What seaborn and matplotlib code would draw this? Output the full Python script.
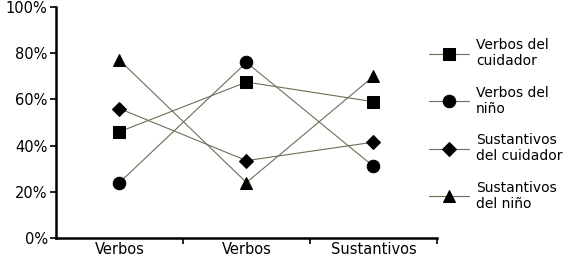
import matplotlib
matplotlib.use('Agg')
import matplotlib.pyplot as plt
import seaborn as sns
import pandas as pd

# Data
categories = ['Verbos', 'Verbos', 'Sustantivos']
series_names = ['Verbos del\ncuidador', 'Verbos del\nniño',
                'Sustantivos\ndel cuidador', 'Sustantivos\ndel niño']
verbos_cuidador = [46, 67.5, 59]
verbos_nino = [24, 76, 31]
sust_cuidador = [56, 33.5, 41.5]
sust_nino = [77, 24, 70]
yticks = [0, 20, 40, 60, 80, 100]

rows = []
for name, vals in zip(series_names, [verbos_cuidador, verbos_nino, sust_cuidador, sust_nino]):
    for i, v in enumerate(vals):
        rows.append({'pos': i, 'pct': v, 'serie': name})
df = pd.DataFrame(rows)

sns.set_style('white')
plt.rcParams['font.family'] = ['DejaVu Sans']
plt.rcParams['text.color'] = 'black'
plt.rcParams['xtick.color'] = 'black'
plt.rcParams['ytick.color'] = 'black'

fig = plt.figure(figsize=(5.77, 2.61), dpi=100)
ax = fig.add_axes([56 / 577, 23 / 261, 381 / 577, 231 / 261])

line_col = '#6e6e58'
sns.lineplot(data=df, x='pos', y='pct', hue='serie', style='serie',
             palette=[line_col] * 4, markers=['s', 'o', 'D', '^'],
             dashes=False, markersize=9, markerfacecolor='black',
             markeredgecolor='black', linewidth=0.8, ax=ax)
# diamond a bit smaller
for ln in ax.lines:
    if ln.get_marker() == 'D':
        ln.set_markersize(7.5)

ax.set_xlim(-0.5, 2.5)
ax.set_ylim(0, 100)
ax.set_yticks(yticks)
ax.set_yticklabels([f'{t}%' for t in yticks], fontsize=10.5)
ax.set_xticks(range(len(categories)))
ax.set_xticklabels(categories, fontsize=10.5)
ax.set_xticks([0.5, 1.5, 2.5], minor=True)
ax.tick_params(axis='x', which='major', length=0, pad=3)
ax.tick_params(axis='x', which='minor', length=4, width=1.2, color='black', direction='out', bottom=True)
ax.tick_params(axis='y', length=4, width=1.2, color='black', direction='out', left=True, pad=2)
ax.set_xlabel('')
ax.set_ylabel('')
for s in ['top', 'right']:
    ax.spines[s].set_visible(False)
for s in ['left', 'bottom']:
    ax.spines[s].set_color('black')
    ax.spines[s].set_linewidth(1.8)

handles, labels = ax.get_legend_handles_labels()
for h in handles:
    h.set_markerfacecolor('black')
    h.set_markeredgecolor('black')
    h.set_color(line_col)
leg = ax.legend(handles, labels, loc='upper left', bbox_to_anchor=(429 / 577, 1 - 38 / 261),
                bbox_transform=fig.transFigure, frameon=False, fontsize=10,
                handlelength=2.9, handletextpad=0.5, borderpad=0, borderaxespad=0,
                labelspacing=1.25)
for t in leg.get_texts():
    t.set_color('black')

fig.savefig('out.png', dpi=100)
